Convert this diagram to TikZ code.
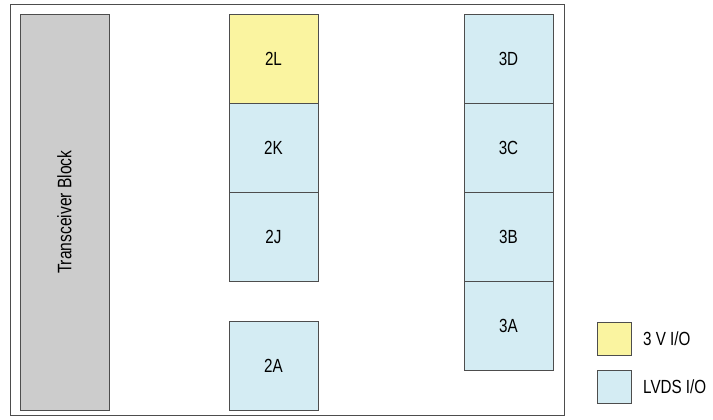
\documentclass[tikz,border=0pt]{standalone}
\usepackage{fontspec}
\setmainfont[FakeStretch=0.8]{Liberation Sans}
\usepackage{tikz}
\usetikzlibrary{positioning}
\definecolor{bankyellow}{HTML}{FAF4A0}
\definecolor{bankblue}{HTML}{D4ECF3}
\definecolor{trxgray}{HTML}{CCCCCC}
\definecolor{edgegray}{HTML}{4D4D4D}
\tikzset{
  bank/.style={rectangle, draw=edgegray, fill=#1, line width=0.9pt,
               minimum width=89pt, minimum height=89pt, inner sep=0pt,
               font=\fontsize{19}{21}\selectfont},
  bank/.default=bankblue,
  trxbox/.style={rectangle, draw=edgegray, fill=trxgray, line width=0.9pt,
                 minimum width=89pt, minimum height=395.5pt, inner sep=0pt},
  keybox/.style={rectangle, draw=edgegray, fill=#1, line width=0.9pt,
                 minimum width=34pt, minimum height=33pt, inner sep=0pt},
  keylbl/.style={anchor=west, inner sep=0pt, font=\fontsize{19}{21}\selectfont},
}

\begin{document}
\begin{tikzpicture}[x=1pt, y=-1pt]
  \useasboundingbox (0,0) rectangle (713,420);
  % Frame
  \draw[edgegray, line width=0.9pt] (10,4) rectangle (564,415);

  % Transceiver
  \node[trxbox] (trx) at (64.5, 212.3) {};
  \node[rotate=90, font=\fontsize{19.5}{21}\selectfont] (trxlbl) at (trx.center) {Transceiver Block};

  % Bank column 2
  \node[bank=bankyellow] (b2L) at (273.5, 59) {2L};
  \node[bank] (b2K) at (273.5, 148) {2K};
  \node[bank] (b2J) at (273.5, 237) {2J};
  \node[bank] (b2A) at (273.5, 365.5) {2A};

  % Bank column 3
  \node[bank] (b3D) at (508.5, 59) {3D};
  \node[bank] (b3C) at (508.5, 148) {3C};
  \node[bank] (b3B) at (508.5, 237) {3B};
  \node[bank] (b3A) at (508.5, 326) {3A};

  % Legend
  \node[keybox=bankyellow] (key3v) at (614, 338.5) {};
  \node[keybox=bankblue] (keylvds) at (614, 387) {};
  \node[keylbl] (lbl3v) at (643, 338.5) {3 V I/O};
  \node[keylbl] (lbllvds) at (643, 387) {LVDS I/O};
\end{tikzpicture}
\end{document}
